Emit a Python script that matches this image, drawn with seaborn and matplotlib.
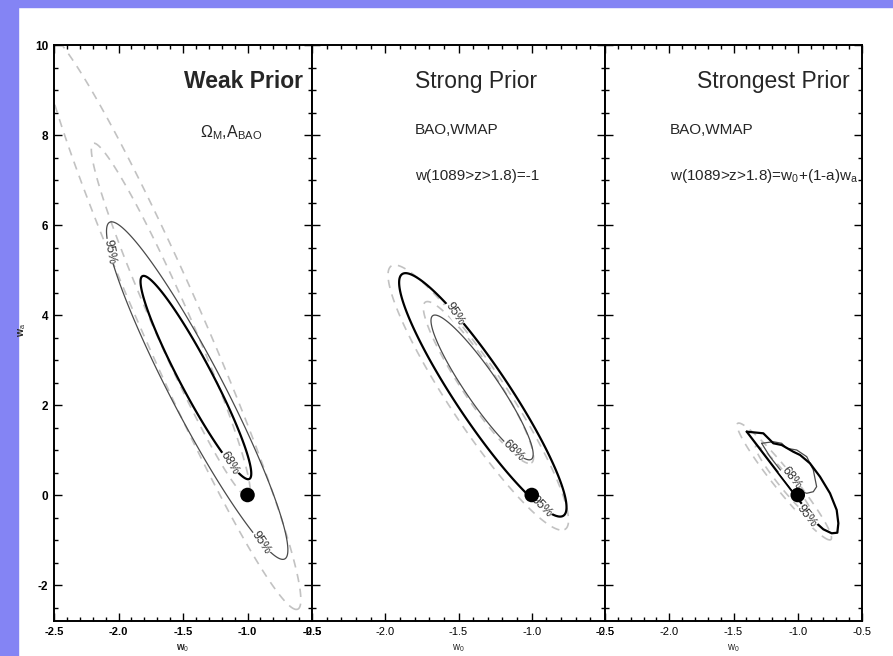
import numpy as np
import matplotlib
matplotlib.use("Agg")
import matplotlib.pyplot as plt
import seaborn as sns
from matplotlib.ticker import MultipleLocator
from matplotlib.patches import Rectangle

sns.set_style("ticks")
plt.rcParams["font.family"] = ["Liberation Sans", "DejaVu Sans"]
plt.rcParams["mathtext.fontset"] = "custom"
plt.rcParams["mathtext.rm"] = "Liberation Sans"
plt.rcParams["mathtext.it"] = "Liberation Sans:italic"
plt.rcParams["mathtext.bf"] = "Liberation Sans:bold"
plt.rcParams["axes.unicode_minus"] = False

# ---- data -------------------------------------------------------------
panel_titles = ["Weak Prior", "Strong Prior", "Strongest Prior"]
fiducial_w0 = [-1.0]
fiducial_wa = [0.0]

level_names = ["68%", "95%"]
level_dchi2 = [2.30, 6.17]

# Gaussian forecast ellipses, one per level (68%, 95%):
# (w0 centre, wa centre, sigma_w0, sigma_wa, correlation)
weak_solid = [(-1.40, 2.61, 0.283, 1.49, -0.944),
              (-1.39, 2.32, 0.283, 1.51, -0.944)]
weak_dashed = [(-1.595, 3.89, 0.406, 2.59, -0.966),
               (-1.595, 3.89, 0.406, 2.59, -0.966)]
strong_solid = [(-1.339, 2.39, 0.230, 1.061, -0.923),
                (-1.334, 2.225, 0.230, 1.089, -0.923)]
strong_dashed = [(-1.364, 2.50, 0.248, 1.186, -0.925),
                 (-1.365, 2.165, 0.248, 1.186, -0.925)]
strongest_dashed = [(-1.105, 0.30, 0.148, 0.523, -0.963),
                    (-1.105, 0.30, 0.148, 0.523, -0.963)]

# Strongest prior: non-Gaussian likelihood contours
strongest_68_w0 = [-1.281, -1.190, -1.125, -1.086, -1.008, -0.930, -0.879, -0.853,
                   -0.879, -0.930, -0.969, -1.047, -1.125, -1.216, -1.281]
strongest_68_wa = [1.149, 1.184, 1.149, 1.038, 1.000, 0.851, 0.556, 0.185,
                   0.073, 0.038, 0.073, 0.260, 0.518, 0.851, 1.149]
strongest_95_w0 = [-1.397, -1.268, -1.190, -1.125, -1.035, -0.982, -0.905, -0.827,
                   -0.749, -0.697, -0.684, -0.692, -0.736, -0.801, -0.853, -1.397]
strongest_95_wa = [1.407, 1.371, 1.149, 1.111, 0.962, 0.889, 0.704, 0.407,
                   0.038, -0.333, -0.629, -0.838, -0.851, -0.762, -0.629, 1.407]

# contour label anchor points (w0, wa)
weak_label_pts = {"68%": [(-1.12, 0.73)], "95%": [(-2.00, 5.44), (-0.88, -1.04)]}
strong_label_pts = {"68%": [(-1.14, 0.96)], "95%": [(-1.52, 4.04), (-0.94, -0.27)]}
strongest_label_pts = {"68%": (-1.05, 0.37), "95%": (-0.93, -0.47)}

# ---- styling ----------------------------------------------------------
THICK = dict(colors="black", linewidths=1.6)
THIN = dict(colors="#4a4a4a", linewidths=0.9)
DASH_COLOR = "#c2c2c2"
LABEL_BOX = dict(facecolor="white", edgecolor="none", pad=0.2)

w0_grid = np.linspace(-3.3, 0.3, 720)
wa_grid = np.linspace(-4.5, 12.5, 1000)
W0, WA = np.meshgrid(w0_grid, wa_grid)


def chi2(ell):
    x0, y0, sx, sy, r = ell
    dx = (W0 - x0) / sx
    dy = (WA - y0) / sy
    return (dx ** 2 + dy ** 2 - 2 * r * dx * dy) / (1 - r ** 2)


def draw_dashed(ax, ells):
    for ell, lev in zip(ells, level_dchi2):
        ax.contour(W0, WA, chi2(ell), levels=[lev], colors=DASH_COLOR,
                   linewidths=1.2, linestyles=[(0, (5, 4))], zorder=2)


def draw_solid(ax, ells, styles, label_pts):
    for ell, lev, name, sty in zip(ells, level_dchi2, level_names, styles):
        cs = ax.contour(W0, WA, chi2(ell), levels=[lev], zorder=3, **sty)
        texts = ax.clabel(cs, fmt={lev: name}, manual=label_pts[name], inline=False,
                          fontsize=9, colors="#333333")
        for t in texts:
            t.set_bbox(LABEL_BOX)
            t.set_zorder(4)


fig, axes = plt.subplots(1, 3, figsize=(8.93, 6.56), dpi=100,
                         gridspec_kw=dict(width_ratios=[258, 293, 257], wspace=0))
fig.subplots_adjust(left=54 / 893, right=862 / 893, bottom=35 / 656, top=611 / 656)

# blue presentation frame
fig.patches.append(Rectangle((0, 0), 18 / 893, 1, transform=fig.transFigure,
                             color="#8484f4", zorder=0))
fig.patches.append(Rectangle((0, 1 - 7 / 656), 1, 7 / 656, transform=fig.transFigure,
                             color="#8484f4", zorder=0))

# Weak prior
ax = axes[0]
draw_dashed(ax, weak_dashed)
draw_solid(ax, weak_solid, [THICK, THIN], weak_label_pts)

# Strong prior
ax = axes[1]
draw_dashed(ax, strong_dashed)
draw_solid(ax, strong_solid, [THIN, THICK], strong_label_pts)

# Strongest prior
ax = axes[2]
draw_dashed(ax, strongest_dashed)
sns.lineplot(x=strongest_68_w0, y=strongest_68_wa, sort=False, estimator=None,
             ax=ax, color="#4a4a4a", linewidth=0.9, zorder=3)
sns.lineplot(x=strongest_95_w0, y=strongest_95_wa, sort=False, estimator=None,
             ax=ax, color="black", linewidth=1.6, zorder=3)
for name, (x, y) in strongest_label_pts.items():
    ax.text(x, y, name, rotation=-52, ha="center", va="center", fontsize=9,
            color="#333333", zorder=4, bbox=LABEL_BOX)

for i, ax in enumerate(axes):
    sns.scatterplot(x=fiducial_w0, y=fiducial_wa, ax=ax, s=110, color="black",
                    edgecolor="none", zorder=5)
    ax.set_xlim(-2.5, -0.5)
    ax.set_ylim(-2.8, 10)
    ax.xaxis.set_major_locator(MultipleLocator(0.5))
    ax.xaxis.set_minor_locator(MultipleLocator(0.1))
    ax.yaxis.set_major_locator(MultipleLocator(2))
    ax.yaxis.set_minor_locator(MultipleLocator(0.5))
    ax.tick_params(which="both", direction="in", top=True, right=True,
                   width=1.0, colors="black", labelsize=8, pad=4)
    ax.tick_params(which="major", length=5.5)
    ax.tick_params(which="minor", length=2.8)
    for sp in ax.spines.values():
        sp.set_visible(True)
        sp.set_linewidth(1.4)
        sp.set_color("black")
    ax.set_xticks([-2.5, -2.0, -1.5, -1.0, -0.5])
    ax.set_xticklabels(["-2.5", "-2.0", "-1.5", "-1.0", "-0.5"])
    ax.set_xlabel("w$_0$", fontsize=7, labelpad=4,
                  fontweight="bold" if i == 0 else "normal")
    ax.set_ylabel("")
    if i > 0:
        ax.tick_params(labelleft=False)
    else:
        ax.tick_params(axis="y", labelsize=8.5)
        for lab in ax.get_xticklabels() + ax.get_yticklabels():
            lab.set_fontweight("bold")

fig.text(22 / 893, 1 - 330 / 656, r"w$_{\mathrm{a}}$", rotation=90, fontsize=7.5,
         fontweight="bold", ha="center", va="center")

# panel annotations
axes[0].text(0.965, 0.936, panel_titles[0], transform=axes[0].transAxes,
             ha="right", va="center", fontsize=16.5, fontweight="bold")
axes[0].text(0.566, 0.847, r"$\Omega_{\mathrm{M}}$,A$_{\mathrm{BAO}}$",
             transform=axes[0].transAxes, ha="left", va="center", fontsize=11.5)
axes[1].text(0.352, 0.936, panel_titles[1], transform=axes[1].transAxes,
             ha="left", va="center", fontsize=16.5)
axes[1].text(0.352, 0.852, "BAO,WMAP", transform=axes[1].transAxes,
             ha="left", va="center", fontsize=11)
axes[1].text(0.352, 0.773, "w(1089>z>1.8)=-1", transform=axes[1].transAxes,
             ha="left", va="center", fontsize=11)
axes[2].text(0.358, 0.936, panel_titles[2], transform=axes[2].transAxes,
             ha="left", va="center", fontsize=16.5)
axes[2].text(0.253, 0.852, "BAO,WMAP", transform=axes[2].transAxes,
             ha="left", va="center", fontsize=11)
axes[2].text(0.253, 0.773, r"w(1089>z>1.8)=w$_0$+(1-a)w$_{\mathrm{a}}$",
             transform=axes[2].transAxes, ha="left", va="center", fontsize=11)

fig.savefig("out.png", dpi=100, facecolor="white")
